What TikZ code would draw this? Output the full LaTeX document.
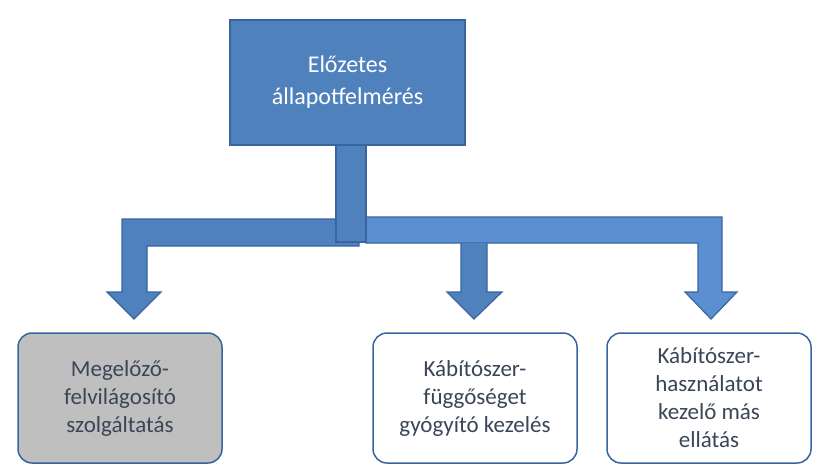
\documentclass[tikz,border=0pt]{standalone}
\usepackage{fontspec}
\setmainfont{Carlito}
\begin{document}
\begin{tikzpicture}[x=1pt,y=-1pt,
  arr/.style={fill=blueA,draw=blueB,line width=1.2pt,line join=miter},
  leaf/.style={draw=blueB,line width=1.5pt,rounded corners=14pt,minimum width=204pt,minimum height=130pt,align=center,font=\fontsize{23}{28}\selectfont,text=txt}]
\definecolor{blueA}{HTML}{4F81BD}
\definecolor{blueB}{HTML}{3A64A0}
\definecolor{blueC}{HTML}{5A90D2}
\definecolor{txt}{HTML}{3A4656}
\useasboundingbox (0,0) rectangle (821,472);
% left arrow
\draw[arr] (359,219) -- (122,219) -- (122,292) -- (107,292) -- (134,319) -- (161,292) -- (147,292) -- (147,246) -- (359,246) -- cycle;
% right arrows
\draw[arr,fill=blueC] (366,217) -- (722,217) -- (722,292) -- (737,292) -- (711,319) -- (685,292) -- (698,292) -- (698,243) -- (366,243) -- cycle;
\draw[arr] (461,243) -- (461,292) -- (447,292) -- (474,319) -- (502,292) -- (487,292) -- (487,243);
% stem
\draw[arr] (336,145) rectangle (366,242);
% top box
\node[arr,minimum width=235pt,minimum height=125pt,align=center,text=white,font=\fontsize{24}{32}\selectfont] (top) at (347.5,82.5) {Előzetes\\állapotfelmérés};
\node[leaf,fill=black!25] (a) at (120,398) {Megelőző-\\felvilágosító\\szolgáltatás};
\node[leaf,fill=white] (b) at (475,398) {Kábítószer-\\függőséget\\gyógyító kezelés};
\node[leaf,fill=white] (c) at (709,398) {Kábítószer-\\használatot\\kezelő más\\ellátás};
\end{tikzpicture}
\end{document}
